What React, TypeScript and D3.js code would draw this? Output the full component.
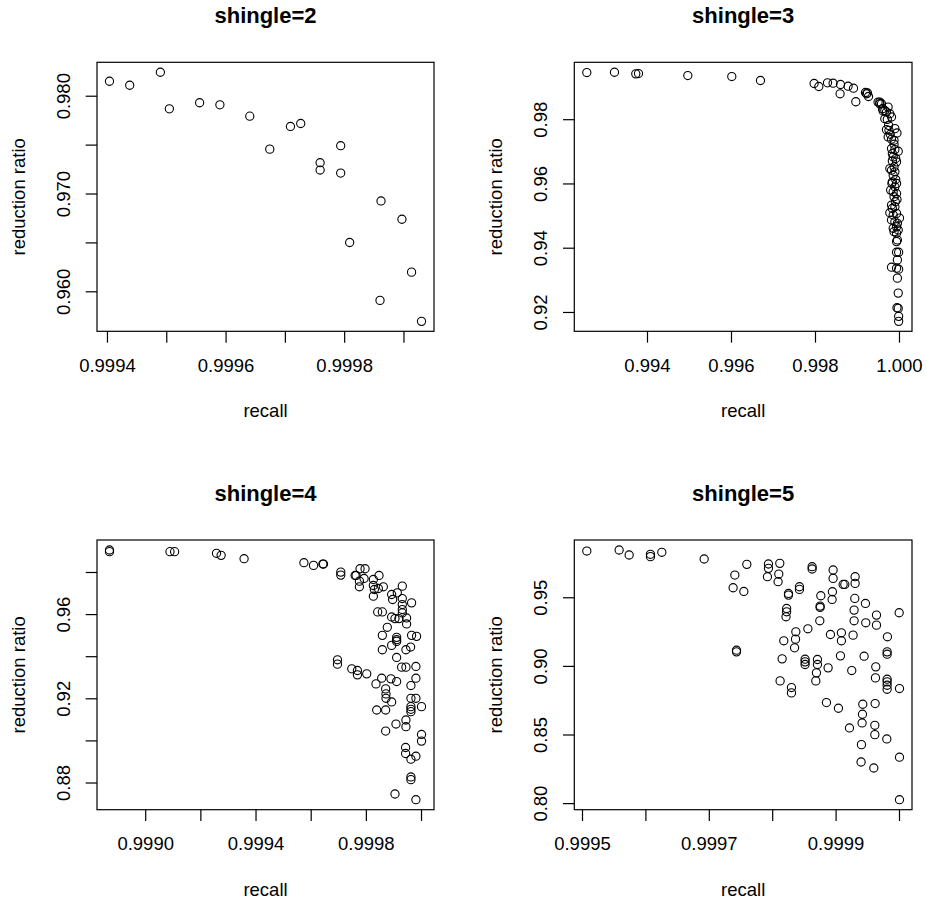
import React from "react";
import * as d3 from "d3";

// [recall, reduction ratio] pairs
const shingle2: [number, number][] = [
  [0.9994034, 0.98153], [0.9994375, 0.98112], [0.9994892, 0.98245], [0.9995044, 0.97871],
  [0.9995554, 0.97933], [0.9995896, 0.97912], [0.99964, 0.97796], [0.9996737, 0.97459],
  [0.9997086, 0.97691], [0.9997259, 0.97721], [0.9997586, 0.9732], [0.9997586, 0.97245],
  [0.9997933, 0.97494], [0.9997933, 0.97214], [0.9998084, 0.96504], [0.9998613, 0.96929],
  [0.9998966, 0.96742], [0.9998596, 0.95912], [0.9999128, 0.96201], [0.9999296, 0.95698],
];

const shingle3: [number, number][] = [
  [0.992555, 0.99467], [0.993214, 0.99476], [0.993721, 0.99426], [0.993786, 0.99436],
  [0.99496, 0.99374], [0.996007, 0.99343], [0.99669, 0.99219], [0.997967, 0.99126],
  [0.998079, 0.99033], [0.998286, 0.99147], [0.998419, 0.99135], [0.998595, 0.99095],
  [0.998586, 0.98806], [0.998776, 0.99042], [0.998905, 0.9898], [0.99896, 0.98558],
  [0.99919, 0.98847], [0.999214, 0.98806], [0.999238, 0.9883], [0.999262, 0.98722],
  [0.99949, 0.98546], [0.999531, 0.98546], [0.999571, 0.98496], [0.999595, 0.98341],
  [0.99965, 0.98288], [0.999729, 0.98391],
  [0.99969, 0.98238], [0.99977, 0.98186], [0.99965, 0.98031], [0.99971, 0.9801],
  [0.99981, 0.98083], [0.99969, 0.9769], [0.99975, 0.97669], [0.99989, 0.97721],
  [0.99994, 0.97586], [0.99973, 0.97462], [0.99981, 0.9739], [0.99987, 0.97359],
  [0.99981, 0.971], [0.99989, 0.97069], [0.99997, 0.97018], [0.99985, 0.96842],
  [0.99991, 0.9679], [0.99983, 0.96718], [0.99993, 0.96687], [0.99981, 0.96428],
  [0.99989, 0.96377], [0.99985, 0.96273], [0.99983, 0.96066], [0.99991, 0.96139],
  [0.99989, 0.95911], [0.99982, 0.96015], [0.99985, 0.95756], [0.99993, 0.95704],
  [0.99987, 0.95601], [0.99994, 0.95518], [0.99981, 0.95343], [0.99989, 0.95291],
  [0.99977, 0.95105], [0.99985, 0.95032], [0.99993, 0.95084], [1.0, 0.94939],
  [0.99981, 0.94877], [0.99989, 0.94826], [0.99985, 0.94619], [0.99993, 0.9467],
  [0.99997, 0.94567], [0.99993, 0.94464], [0.99995, 0.94257], [0.99993, 0.94205],
  [0.99993, 0.93874], [0.99998, 0.93874], [0.99981, 0.93409], [0.99993, 0.93378],
  [0.99998, 0.93347], [0.99995, 0.93636], [0.99995, 0.93068], [0.99997, 0.92603],
  [0.99994, 0.92148], [0.99997, 0.92127], [0.99998, 0.91879], [0.99998, 0.91724],
  [0.99978, 0.97545], [0.99987, 0.97235], [0.99983, 0.96945], [0.99977, 0.9648],
  [0.99987, 0.96532], [0.99993, 0.96015], [0.99979, 0.95808], [0.9999, 0.95446],
  [0.99983, 0.95239], [0.99995, 0.94774], [0.99987, 0.94515], [0.99974, 0.97824],
  [0.99961, 0.98269], [0.99953, 0.98496],
];

const shingle4: [number, number][] = [
  [0.9988687, 0.99069], [0.9988687, 0.98989], [0.999088, 0.98989], [0.9991048, 0.98989],
  [0.9992567, 0.9891], [0.9992735, 0.98814], [0.9993567, 0.98655], [0.9995736, 0.98465],
  [0.9996085, 0.98337], [0.9996423, 0.98401], [0.9996447, 0.98401], [0.9997073, 0.98019],
  [0.9997073, 0.97876], [0.9997592, 0.9786], [0.9997628, 0.9786], [0.9997772, 0.98178],
  [0.9997953, 0.98178], [0.9997748, 0.9759], [0.9997748, 0.9732], [0.9997917, 0.97717],
  [0.9998254, 0.9767], [0.9998254, 0.97383], [0.9998254, 0.96875], [0.999829, 0.97193],
  [0.9998459, 0.9786], [0.9998435, 0.9724], [0.9998616, 0.9732], [0.9999303, 0.97352],
  [0.9998917, 0.96954], [0.9998953, 0.96716], [0.9999122, 0.97034], [0.9999303, 0.96763],
  [0.9999303, 0.96477], [0.9999303, 0.96239], [0.9999303, 0.9608], [0.999964, 0.96557],
  [0.9998411, 0.96127], [0.999858, 0.96127], [0.9998917, 0.95889], [0.9999038, 0.95809],
  [0.9999182, 0.95809], [0.9999459, 0.95841], [0.9999459, 0.95555], [0.999876, 0.95396],
  [0.999858, 0.95014], [0.999964, 0.95014], [0.9999821, 0.94967], [0.9999098, 0.94919],
  [0.9999098, 0.94808], [0.9999098, 0.94728], [0.9998917, 0.94537], [0.9999604, 0.94458],
  [0.999858, 0.9433], [0.9999435, 0.9433], [0.9999098, 0.93965], [0.9999279, 0.93504],
  [0.9999435, 0.93504], [0.9999797, 0.93536], [0.9996953, 0.93854], [0.9996953, 0.93647],
  [0.9997471, 0.93424], [0.9997676, 0.93345], [0.9997676, 0.93138], [0.9998013, 0.93186],
  [0.9998556, 0.92979], [0.9998893, 0.92947], [0.9999098, 0.9282], [0.9999797, 0.92979],
  [0.999835, 0.92709], [0.9999616, 0.92629], [0.99987, 0.9247], [0.9998712, 0.92232],
  [0.9998712, 0.92025], [0.9998917, 0.9185], [0.9999616, 0.92025], [0.9999797, 0.92025],
  [0.9998375, 0.91468], [0.99987, 0.91468], [0.9999616, 0.91628], [0.9999616, 0.915],
  [0.9999616, 0.91389], [1.0, 0.91628], [0.9999435, 0.90993], [0.9999435, 0.90675],
  [0.9999074, 0.90801], [0.99987, 0.90467], [1.0, 0.90308], [1.0, 0.8999],
  [0.9999423, 0.89688], [0.9999423, 0.89401], [0.9999797, 0.89274], [0.9999616, 0.89131],
  [0.9999616, 0.88289], [0.9999616, 0.88161], [0.9999038, 0.87478], [0.9999797, 0.87207],
];

const shingle5: [number, number][] = [
  [0.9995068, 0.98406], [0.9995578, 0.98482], [0.9995736, 0.98118], [0.9996072, 0.98166],
  [0.9996072, 0.97996], [0.9996251, 0.98312], [0.9996919, 0.97825], [0.9997403, 0.96654],
  [0.9997376, 0.9573], [0.9997545, 0.95462], [0.9997592, 0.97435], [0.9997933, 0.9746],
  [0.9997933, 0.97143], [0.9997917, 0.96535], [0.9998112, 0.97508], [0.9998096, 0.9673],
  [0.9998085, 0.9617], [0.9998249, 0.95316], [0.9998249, 0.95195], [0.9998422, 0.95803],
  [0.9998422, 0.95609], [0.9998622, 0.97265], [0.9998622, 0.97095], [0.9998759, 0.95146],
  [0.9998748, 0.94393], [0.9998748, 0.94296], [0.9998937, 0.94878], [0.9998942, 0.95438],
  [0.9998953, 0.97022], [0.9998953, 0.96413], [0.9999111, 0.95973], [0.9999137, 0.95973],
  [0.99993, 0.96535], [0.99993, 0.96048], [0.9999295, 0.94953], [0.9999284, 0.94102],
  [0.9999284, 0.93323], [0.9999463, 0.94588], [0.9999468, 0.93176], [0.9999637, 0.93736],
  [0.9999637, 0.93006], [0.999981, 0.92155], [0.9999995, 0.93907], [0.999822, 0.94222],
  [0.999822, 0.93979], [0.999821, 0.93614], [0.9998365, 0.9252], [0.999836, 0.91985],
  [0.9998345, 0.91352], [0.9998175, 0.91863], [0.9998555, 0.92739], [0.9998743, 0.93323],
  [0.9998911, 0.92325], [0.9999084, 0.92447], [0.9999084, 0.91863], [0.9999268, 0.92277],
  [0.9997429, 0.91181], [0.9997429, 0.9106], [0.9998149, 0.90549], [0.9998511, 0.90525],
  [0.9998511, 0.9033], [0.9998511, 0.90136], [0.9998706, 0.90501], [0.9998706, 0.90136],
  [0.999869, 0.89528], [0.999868, 0.88944], [0.9998874, 0.89893], [0.9999069, 0.90768],
  [0.9999247, 0.89698], [0.9999442, 0.90744], [0.9999626, 0.89966], [0.9999621, 0.89163],
  [0.9999805, 0.9106], [0.9999805, 0.9089], [0.9999805, 0.89065], [0.9999805, 0.8887],
  [0.9999805, 0.88627], [0.9999805, 0.88336], [1.0, 0.88384], [0.9998117, 0.88944],
  [0.9998296, 0.88457], [0.9998296, 0.88068], [0.9998848, 0.87363], [0.9999037, 0.86949],
  [0.9999421, 0.87241], [0.9999616, 0.8729], [0.9999416, 0.86511], [0.9999211, 0.85514],
  [0.999941, 0.85879], [0.9999611, 0.85709], [0.9999611, 0.85027], [0.99998, 0.84711],
  [0.99994, 0.84297], [0.9999394, 0.83032], [0.9999595, 0.82594], [1.0, 0.83381],
  [1.0, 0.80285],
];

const titles = ["shingle=2", "shingle=3", "shingle=4", "shingle=5"];

const xTicks2 = [0.9994, 0.9995, 0.9996, 0.9997, 0.9998, 0.9999];
const xLabels2 = ["0.9994", "0.9996", "0.9998"];
const yTicks2 = [0.96, 0.965, 0.97, 0.975, 0.98];
const yLabels2 = ["0.960", "0.970", "0.980"];

const xTicks3 = [0.994, 0.996, 0.998, 1.0];
const xLabels3 = ["0.994", "0.996", "0.998", "1.000"];
const yTicks3 = [0.92, 0.94, 0.96, 0.98];
const yLabels3 = ["0.92", "0.94", "0.96", "0.98"];

const xTicks4 = [0.999, 0.9992, 0.9994, 0.9996, 0.9998, 1.0];
const xLabels4 = ["0.9990", "0.9994", "0.9998"];
const yTicks4 = [0.88, 0.9, 0.92, 0.94, 0.96, 0.98];
const yLabels4 = ["0.88", "0.92", "0.96"];

const xTicks5 = [0.9995, 0.9996, 0.9997, 0.9998, 0.9999, 1.0];
const xLabels5 = ["0.9995", "0.9997", "0.9999"];
const yTicks5 = [0.8, 0.85, 0.9, 0.95];
const yLabels5 = ["0.80", "0.85", "0.90", "0.95"];

const FONT = "'Liberation Sans', Arial, Helvetica, sans-serif";

type Box = { left: number; right: number; top: number; bottom: number };

const boxes: Box[] = [
  { left: 97, right: 434, top: 62.3, bottom: 331.3 },
  { left: 574.3, right: 912, top: 62.3, bottom: 331.3 },
  { left: 97, right: 434, top: 540, bottom: 809.7 },
  { left: 574.3, right: 912, top: 540, bottom: 809.7 },
];

const panels = [
  { pts: shingle2, xt: xTicks2, xl: xLabels2, yt: yTicks2, yl: yLabels2 },
  { pts: shingle3, xt: xTicks3, xl: xLabels3, yt: yTicks3, yl: yLabels3 },
  { pts: shingle4, xt: xTicks4, xl: xLabels4, yt: yTicks4, yl: yLabels4 },
  { pts: shingle5, xt: xTicks5, xl: xLabels5, yt: yTicks5, yl: yLabels5 },
];

function padR(ext: [number, number]): [number, number] {
  const r = ext[1] - ext[0];
  return [ext[0] - 0.04 * r, ext[1] + 0.04 * r];
}

const LINE = 22.65;
const TICK = 0.5 * LINE;
const LAB = 18.5;

function Panel({ p, box, title }: { p: any; box: Box; title: string }) {
  const xs = d3
    .scaleLinear()
    .domain(padR(d3.extent(p.pts, (d: any) => d[0]) as [number, number]))
    .range([box.left, box.right]);
  const ys = d3
    .scaleLinear()
    .domain(padR(d3.extent(p.pts, (d: any) => d[1]) as [number, number]))
    .range([box.bottom, box.top]);
  const cx = (box.left + box.right) / 2;
  const cy = (box.top + box.bottom) / 2;
  return (
    <g>
      <text x={cx} y={box.top - 39.5} textAnchor="middle" fontFamily={FONT} fontWeight="bold" fontSize={22}>
        {title}
      </text>
      <rect
        x={box.left}
        y={box.top}
        width={box.right - box.left}
        height={box.bottom - box.top}
        fill="none"
        stroke="#000"
        strokeWidth={1.2}
      />
      {p.xt.map((v: number, i: number) => (
        <line key={"xt" + i} x1={xs(v)} x2={xs(v)} y1={box.bottom} y2={box.bottom + TICK} stroke="#000" strokeWidth={1.2} />
      ))}
      {p.xl.map((s: string, i: number) => (
        <text key={"xl" + i} x={xs(+s)} y={box.bottom + 1.8 * LINE} textAnchor="middle" fontFamily={FONT} fontSize={LAB}>
          {s}
        </text>
      ))}
      {p.yt.map((v: number, i: number) => (
        <line key={"yt" + i} x1={box.left - TICK} x2={box.left} y1={ys(v)} y2={ys(v)} stroke="#000" strokeWidth={1.2} />
      ))}
      {p.yl.map((s: string, i: number) => (
        <text
          key={"yl" + i}
          transform={`translate(${box.left - 1.2 * LINE},${ys(+s)}) rotate(-90)`}
          textAnchor="middle"
          fontFamily={FONT}
          fontSize={LAB}
        >
          {s}
        </text>
      ))}
      <text x={cx} y={box.bottom + 3.8 * LINE} textAnchor="middle" fontFamily={FONT} fontSize={LAB}>
        recall
      </text>
      <text
        transform={`translate(${box.left - 3.2 * LINE},${cy}) rotate(-90)`}
        textAnchor="middle"
        fontFamily={FONT}
        fontSize={LAB}
      >
        reduction ratio
      </text>
      {p.pts.map((d: [number, number], i: number) => (
        <circle key={"c" + i} cx={xs(d[0])} cy={ys(d[1])} r={4.1} fill="none" stroke="#000" strokeWidth={1.1} />
      ))}
    </g>
  );
}

export default function App() {
  return (
    <svg
      width={927}
      height={903}
      viewBox="0 0 927 903"
      style={{ position: "absolute", left: 0, top: 0, background: "#fff" }}
    >
      <rect x={0} y={0} width={927} height={903} fill="#fff" />
      {panels.map((p, i) => (
        <Panel key={i} p={p} box={boxes[i]} title={titles[i]} />
      ))}
    </svg>
  );
}
